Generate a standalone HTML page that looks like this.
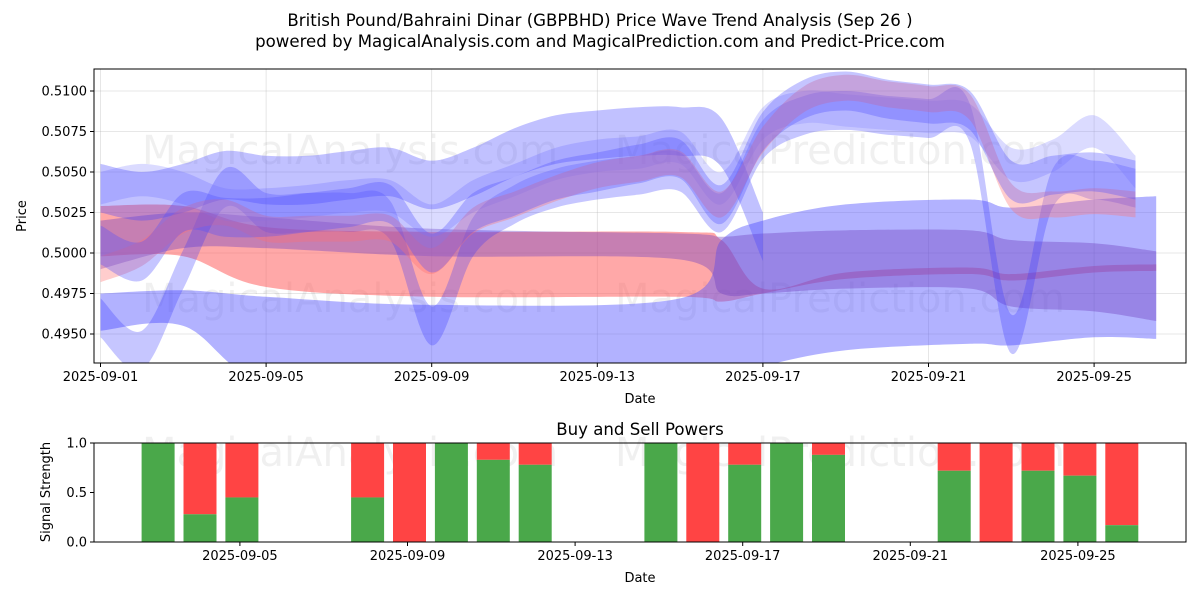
<!DOCTYPE html>
<html><head><meta charset="utf-8"><style>
body{margin:0;background:#fff;font-family:"DejaVu Sans","Liberation Sans",sans-serif;}
svg text{font-family:"DejaVu Sans","Liberation Sans",sans-serif;fill:#000;}
</style></head><body>
<svg id="chart" width="1200" height="600" xmlns="http://www.w3.org/2000/svg"></svg>
<script>
// ---- data ----
const tickDates = ["2025-09-01","2025-09-05","2025-09-09","2025-09-13","2025-09-17","2025-09-21","2025-09-25"];
const tickDays = [1,5,9,13,17,21,25];
const priceTicks = [0.4950,0.4975,0.5000,0.5025,0.5050,0.5075,0.5100];
const bandA = [0.5005,0.4995,0.5025,0.5022,0.5022,0.5025,0.5028,0.5030,0.5000,0.5025,0.5035,0.5045,0.5050,0.5055,0.5058,0.5030,0.5075,0.5095,0.5100,0.5095,0.5092,0.5088,0.5045,0.5048,0.5050,0.5045];
const bandB = [0.5040,0.5035,0.5040,0.5048,0.5045,0.5045,0.5048,0.5050,0.5042,0.5050,0.5062,0.5070,0.5073,0.5075,0.5075,0.5068,0.5010];
const bandC = [0.4990,0.5000,0.5020,0.5025,0.5015,0.5015,0.5015,0.5015,0.4995,0.5020,0.5030,0.5040,0.5048,0.5052,0.5055,0.5030,0.5070,0.5095,0.5102,0.5098,0.5095,0.5090,0.5035,0.5030,0.5032,0.5030];
const bandD = [0.5040,0.5045,0.5040,0.5030,0.5030,0.5032,0.5035,0.5035,0.5020,0.5035,0.5045,0.5055,0.5060,0.5062,0.5065,0.5040,0.5080,0.5090,0.5088,0.5086,0.5084,0.5082,0.5055,0.5060,0.5075,0.5050];
const bandE = [0.4960,0.4940,0.4990,0.5040,0.5025,0.5025,0.5025,0.5020,0.4955,0.5010,0.5030,0.5040,0.5045,0.5048,0.5050,0.5025,0.5070,0.5085,0.5088,0.5085,0.5083,0.5080,0.4950,0.5040,0.5045,0.5040];
const bandHW = [0.0012,0.0015,0.0008,0.0010,0.0012];
const wideDays = [1,3,5,9,15,16,17,19,22,23,25,26.5];
const redUpper = [0.5029,0.5029,0.5016,0.5013,0.5013,0.5008,0.4978,0.4988,0.4991,0.4987,0.4992,0.4993];
const redLower = [0.4998,0.4998,0.4979,0.4973,0.4973,0.4970,0.4975,0.4984,0.4987,0.4983,0.4988,0.4989];
const blueUpper = [0.4975,0.4977,0.4973,0.4968,0.4972,0.5008,0.5020,0.5030,0.5033,0.5028,0.5033,0.5035];
const blueLower = [0.4952,0.4955,0.4920,0.4920,0.4920,0.4920,0.4930,0.4940,0.4944,0.4943,0.4948,0.4947];
const purpUpper = [0.5020,0.5025,0.5022,0.5015,0.5012,0.5010,0.5012,0.5014,0.5014,0.5008,0.5006,0.5001];
const purpLower = [0.4990,0.5003,0.5003,0.4998,0.4996,0.4975,0.4975,0.4978,0.4978,0.4967,0.4964,0.4958];
const barDays = [3,4,5,8,9,10,11,12,15,16,17,18,19,22,23,24,25,26];
const buyPower = [1.0,0.28,0.45,0.45,0.0,1.0,0.83,0.78,1.0,0.0,0.78,1.0,0.88,0.72,0.0,0.72,0.67,0.17];
const powerTicks = [0.0,0.5,1.0];

const NS="http://www.w3.org/2000/svg";
const svg=document.getElementById('chart');
function el(tag,attrs,parent){const e=document.createElementNS(NS,tag);for(const k in attrs)e.setAttribute(k,attrs[k]);(parent||svg).appendChild(e);return e;}
function txt(s,x,y,size,anchor,parent,name){const t=el('text',{x:x,y:y,'font-size':size,'text-anchor':anchor||'middle'},parent);t.textContent=s;


return t;}

const T={l:94,r:1186,t:69,b:363}, B={l:94,r:1186,t:443,b:542};
const xT=d=>100.5+41.4*(d-1);
const yT=v=>91+(0.5100-v)/0.0025*40.5;
const xB=d=>74.3+41.9*(d-1);
const xBt=d=>72.3+41.9*(d-1);
const yB=v=>542-v*99;

txt("British Pound/Bahraini Dinar (GBPBHD) Price Wave Trend Analysis (Sep 26 )",600,26,16.6,'middle',svg,'chart-title');
txt("powered by MagicalAnalysis.com and MagicalPrediction.com and Predict-Price.com",600,47,16.6,'middle',svg,'chart-subtitle');

const gT=el('g',{});


const clip=el('clipPath',{id:'cT'},gT);el('rect',{x:T.l,y:T.t,width:T.r-T.l,height:T.b-T.t},clip);
const plot=el('g',{'clip-path':'url(#cT)'},gT);
tickDays.forEach(d=>el('line',{x1:xT(d),x2:xT(d),y1:T.t,y2:T.b,stroke:'#b0b0b0','stroke-width':0.8,'stroke-opacity':0.4},plot));
priceTicks.forEach(v=>el('line',{x1:T.l,x2:T.r,y1:yT(v),y2:yT(v),stroke:'#b0b0b0','stroke-width':0.8,'stroke-opacity':0.4},plot));
[[350,150],[840,150],[350,298],[840,298]].forEach((p,i)=>{const t=txt(i%2?"MagicalPrediction.com":"MagicalAnalysis.com",p[0],p[1]+14,40,'middle',plot,'watermark');t.setAttribute('fill','#000');t.setAttribute('fill-opacity','0.06');});
function smooth(pts){let d='M'+pts[0][0]+','+pts[0][1];for(let i=0;i<pts.length-1;i++){const p0=pts[i-1]||pts[i],p1=pts[i],p2=pts[i+1],p3=pts[i+2]||p2;
d+=' C'+(p1[0]+(p2[0]-p0[0])/6)+','+(p1[1]+(p2[1]-p0[1])/6)+' '+(p2[0]-(p3[0]-p1[0])/6)+','+(p2[1]-(p3[1]-p1[1])/6)+' '+p2[0]+','+p2[1];}return d;}
function bandPath(days,up,lo){const U=days.map((d,i)=>[xT(d),yT(up[i])]);const L=days.map((d,i)=>[xT(d),yT(lo[i])]).reverse();
return smooth(U)+' L'+smooth(L).slice(1)+' Z';}
function addBand(days,up,lo,color,op,name){const p=el('path',{d:bandPath(days,up,lo),fill:color,'fill-opacity':op},plot);

}
addBand(wideDays,redUpper,redLower,'#ff6060',0.55,'red-forecast-band');
addBand(wideDays,blueUpper,blueLower,'#5555ff',0.45,'blue-forecast-band');
addBand(wideDays,purpUpper,purpLower,'#7040c0',0.4,'purple-forecast-band');
const bands=[[bandE,'#3333ff',0.28],[bandD,'#8888ff',0.3],[bandB,'#4444ff',0.33],[bandC,'#ff7070',0.35],[bandA,'#5050ff',0.33]];
const hws=[bandHW[4],bandHW[3],bandHW[1],bandHW[2],bandHW[0]];
bands.forEach((b,k)=>{const arr=b[0],hw=hws[k];const days=arr.map((v,i)=>i+1);
addBand(days,arr.map(v=>v+hw),arr.map(v=>v-hw),b[1],b[2],'wave-band');});
el('rect',{x:T.l,y:T.t,width:T.r-T.l,height:T.b-T.t,fill:'none',stroke:'#000','stroke-width':1},gT);
tickDays.forEach((d,i)=>{el('line',{x1:xT(d),x2:xT(d),y1:T.b,y2:T.b+4,stroke:'#000'},gT);txt(tickDates[i],xT(d),T.b+18,13,'middle',gT,'x-tick-label');});
priceTicks.forEach(v=>{el('line',{x1:T.l-4,x2:T.l,y1:yT(v),y2:yT(v),stroke:'#000'},gT);txt(v.toFixed(4),T.l-7,yT(v)+4.5,13,'end',gT,'y-tick-label');});
txt("Date",640,403,13,'middle',gT,'x-axis-title');
const yl=txt("Price",26,216,13,'middle',gT,'y-axis-title');yl.setAttribute('transform','rotate(-90 26 216)');

const gB=el('g',{});


[[350,452],[840,452]].forEach((p,i)=>{const t=txt(i?"MagicalPrediction.com":"MagicalAnalysis.com",p[0],p[1]+14,40,'middle',gB,'watermark');t.setAttribute('fill','#000');t.setAttribute('fill-opacity','0.06');});
barDays.forEach((d,i)=>{const x=xB(d)-16.5,g=buyPower[i];
const r=el('rect',{x:x,y:yB(1),width:33,height:yB(g)-yB(1),fill:'#ff4444'},gB);


const gr=el('rect',{x:x,y:yB(g),width:33,height:yB(0)-yB(g),fill:'#4aa84a'},gB);

});
el('rect',{x:B.l,y:B.t,width:B.r-B.l,height:B.b-B.t,fill:'none',stroke:'#000','stroke-width':1},gB);
tickDays.slice(1).forEach((d,i)=>{el('line',{x1:xBt(d),x2:xBt(d),y1:B.b,y2:B.b+4,stroke:'#000'},gB);txt(tickDates[i+1],xBt(d),B.b+18,13,'middle',gB,'x-tick-label');});
powerTicks.forEach(v=>{el('line',{x1:B.l-4,x2:B.l,y1:yB(v),y2:yB(v),stroke:'#000'},gB);txt(v.toFixed(1),B.l-7,yB(v)+4.5,13,'end',gB,'y-tick-label');});
txt("Buy and Sell Powers",640,435,16.6,'middle',gB,'power-title');
txt("Date",640,582,13,'middle',gB,'x-axis-title');
const yl2=txt("Signal Strength",50,492,13,'middle',gB,'y-axis-title');yl2.setAttribute('transform','rotate(-90 50 492)');
</script>
</body></html>
